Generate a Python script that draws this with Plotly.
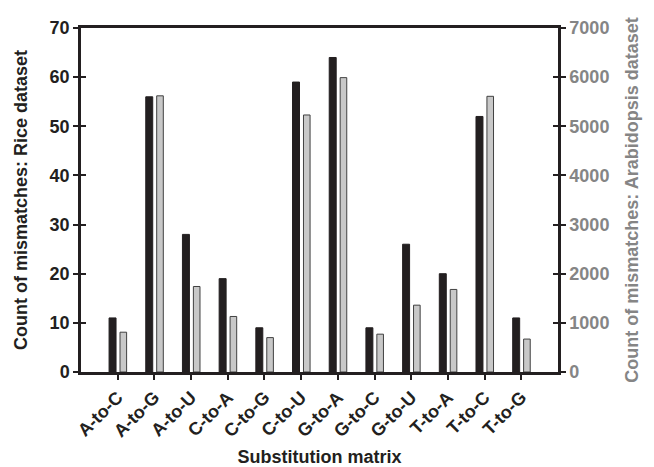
import plotly.graph_objects as go

categories = ["A-to-C", "A-to-G", "A-to-U", "C-to-A", "C-to-G", "C-to-U",
              "G-to-A", "G-to-C", "G-to-U", "T-to-A", "T-to-C", "T-to-G"]
rice = [11, 56, 28, 19, 9, 59, 64, 9, 26, 20, 52, 11]
arabidopsis = [810, 5620, 1740, 1130, 700, 5230, 5990, 770, 1360, 1680, 5610, 670]
left_ticks = [0, 10, 20, 30, 40, 50, 60, 70]
right_ticks = [0, 1000, 2000, 3000, 4000, 5000, 6000, 7000]

FONT = "Liberation Sans, Arial, sans-serif"
DARK = "#231f20"
GRAY = "#858585"

fig = go.Figure()
fig.add_trace(go.Bar(x=categories, y=rice, name="Rice", yaxis="y",
                     marker=dict(color=DARK, line=dict(color=DARK, width=1)),
                     offset=-0.235, width=0.19))
fig.add_trace(go.Bar(x=categories, y=arabidopsis, name="Arabidopsis", yaxis="y2",
                     marker=dict(color="#c8c8c8", line=dict(color="#404040", width=1)),
                     offset=0.063, width=0.18))

# page body adds an 8px offset; compensate so the plot box matches
fig.update_layout(
    width=646, height=459,
    margin=dict(l=73, r=96, t=20, b=95),
    paper_bgcolor="white", plot_bgcolor="white",
    showlegend=False,
    font=dict(family=FONT, size=17, color=DARK),
    barmode="overlay",
    xaxis=dict(
        range=[-1, 12], tickmode="array", tickvals=list(range(12)),
        ticktext=[f"<b>{c}</b>" for c in categories],
        tickangle=-45, ticks="outside", ticklen=5, tickwidth=2, tickcolor=DARK,
        showline=True, linewidth=2.5, linecolor=DARK, mirror=True,
        showgrid=False, zeroline=False, automargin=False,
        tickfont=dict(family=FONT, size=18, color=DARK),
        title=dict(text="<b>Substitution matrix</b>", standoff=18,
                   font=dict(family=FONT, size=18, color=DARK)),
    ),
    yaxis=dict(
        range=[0, 70], tickmode="array", tickvals=left_ticks,
        ticktext=[f"<b>{v}</b>" for v in left_ticks],
        ticks="outside", ticklen=5, tickwidth=2,
        tickcolor=DARK, showline=True, linewidth=2.5, linecolor=DARK,
        showgrid=False, zeroline=False, automargin=False,
        tickfont=dict(family=FONT, size=18, color=DARK),
        title=dict(text="<b>Count of mismatches: Rice dataset</b>", standoff=18,
                   font=dict(family=FONT, size=18, color=DARK)),
    ),
    yaxis2=dict(
        range=[0, 7000], tickmode="array", tickvals=right_ticks,
        ticktext=[f"<b>{v}</b>" for v in right_ticks],
        overlaying="y", side="right",
        ticks="outside", ticklen=5, tickwidth=2, tickcolor=DARK,
        showline=True, linewidth=2.5, linecolor=DARK,
        showgrid=False, zeroline=False, automargin=False,
        tickfont=dict(family=FONT, size=18, color=GRAY),
        title=dict(text="<b>Count of mismatches: Arabidopsis dataset</b>", standoff=18,
                   font=dict(family=FONT, size=18, color=GRAY)),
    ),
    yaxis3=dict(
        range=[0, 70], tickvals=left_ticks, overlaying="y", side="left",
        ticks="inside", ticklen=5, tickwidth=2, tickcolor=DARK,
        showticklabels=False, showline=False, showgrid=False, zeroline=False,
        automargin=False,
    ),
    yaxis4=dict(
        range=[0, 7000], tickvals=right_ticks, overlaying="y", side="right",
        ticks="inside", ticklen=5, tickwidth=2, tickcolor=DARK,
        showticklabels=False, showline=False, showgrid=False, zeroline=False,
        automargin=False,
    ),
)
fig.add_trace(go.Scatter(x=[categories[0]], y=[0], yaxis="y3", mode="markers",
                         marker=dict(opacity=0), hoverinfo="skip"))
fig.add_trace(go.Scatter(x=[categories[0]], y=[0], yaxis="y4", mode="markers",
                         marker=dict(opacity=0), hoverinfo="skip"))

fig.write_html("out.html")
